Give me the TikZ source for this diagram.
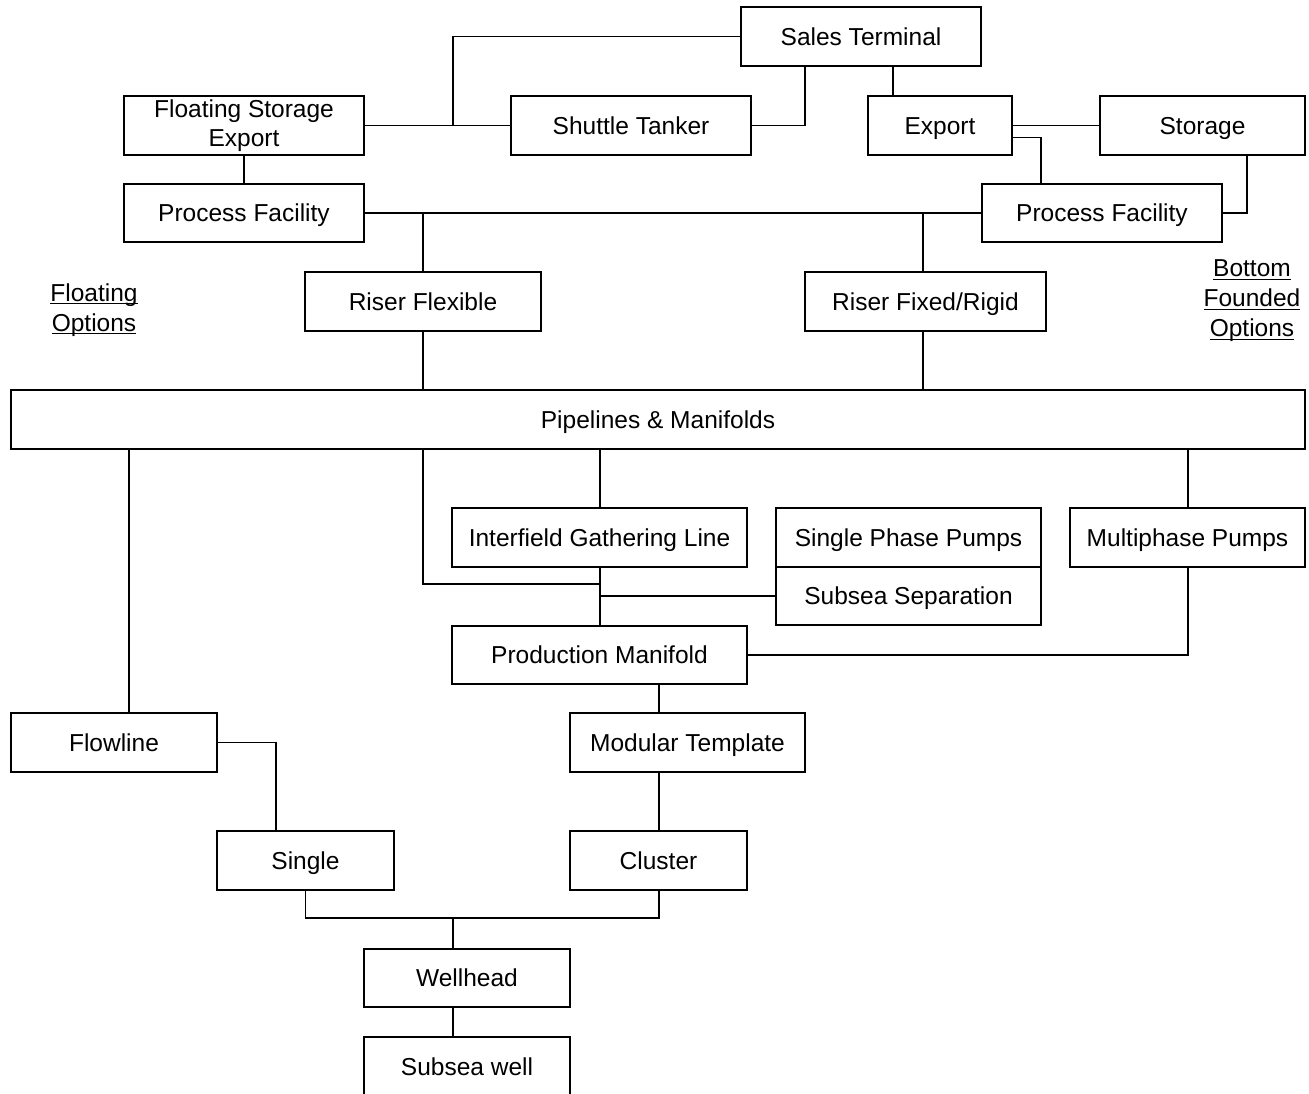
\documentclass[tikz,border=0pt]{standalone}
\usepackage{fontspec}
\setmainfont{Liberation Sans}
\newcommand\myul[1]{\setbox0\hbox{#1}\rlap{\rule[-3pt]{\wd0}{1.3pt}}\box0}
\begin{document}
\begin{tikzpicture}[x=1pt,y=-1pt,
  box/.style={draw=black,line width=1.5pt,rectangle,inner sep=0pt,align=center,
    font=\fontsize{24.5}{29.5}\selectfont,text height=17.5pt,text depth=0pt},
  box2/.style={draw=black,line width=1.5pt,rectangle,inner sep=0pt,align=center,
    font=\fontsize{24.5}{29.5}\selectfont},
  lbl/.style={align=center,inner sep=0pt,font=\fontsize{24.5}{30}\selectfont},
  conn/.style={draw=black,line width=1.5pt}]
\useasboundingbox (0,0) rectangle (1309,1093);
\clip (0,0) rectangle (1309,1093);
\fill[white] (0,0) rectangle (1309,1093);
% boxes
\node[box,minimum width=240,minimum height=59] (st) at (861,36.5) {Sales Terminal};
\node[box2,minimum width=240,minimum height=59] (fse) at (244,125.5) {Floating Storage\\Export};
\node[box,minimum width=240,minimum height=59] (shut) at (631,125.5) {Shuttle Tanker};
\node[box,minimum width=144,minimum height=59] (exp) at (940,125.5) {Export};
\node[box,minimum width=205,minimum height=59] (stor) at (1202.5,125.5) {Storage};
\node[box,minimum width=240,minimum height=58] (pfl) at (244,213) {Process Facility};
\node[box,minimum width=240,minimum height=58] (pfr) at (1102,213) {Process Facility};
\node[box,minimum width=236,minimum height=59] (rflex) at (423,301.5) {Riser Flexible};
\node[box,minimum width=241,minimum height=59] (rfix) at (925.5,301.5) {Riser Fixed/Rigid};
\node[box,minimum width=1294,minimum height=59] (pipe) at (658,419.5) {Pipelines \& Manifolds};
\node[box,minimum width=295,minimum height=59] (igl) at (599.5,537.5) {Interfield Gathering Line};
\node[box,minimum width=265,minimum height=59] (spp) at (908.5,537.5) {Single Phase Pumps};
\node[box,minimum width=265,minimum height=58] (ssep) at (908.5,596) {Subsea Separation};
\node[box,minimum width=235,minimum height=59] (mpp) at (1187.5,537.5) {Multiphase Pumps};
\node[box,minimum width=295,minimum height=58] (pm) at (599.5,655) {Production Manifold};
\node[box,minimum width=206,minimum height=59] (flow) at (114,742.5) {Flowline};
\node[box,minimum width=235,minimum height=59] (mod) at (687.5,742.5) {Modular Template};
\node[box,minimum width=177,minimum height=59] (single) at (305.5,860.5) {Single};
\node[box,minimum width=177,minimum height=59] (cluster) at (658.5,860.5) {Cluster};
\node[box,minimum width=206,minimum height=58] (well) at (467,978) {Wellhead};
\node[box,minimum width=206,minimum height=60] (sw) at (467,1067) {Subsea well};
% labels
\node[lbl] (fo) at (94,310) {\myul{Floating}\\\myul{Options}};
\node[lbl] (bfo) at (1252,301) {\myul{Bottom}\\\myul{Founded}\\\myul{Options}};
% junctions
\coordinate (j1) at (453,125.5);
\coordinate (j2) at (600,584);
\coordinate (j3) at (453,918);
% connectors
\draw[conn] (st.west) -| (j1);
\draw[conn] (fse.east) -- (shut.west);
\draw[conn] (shut.east) -| (805,0 |- st.south);
\draw[conn] (893,0 |- st.south) -- (893,0 |- exp.north);
\draw[conn] (exp.east) -- (stor.west);
\draw[conn] ([yshift=-12pt]exp.east) -| (1041,0 |- pfr.north);
\draw[conn] (1247,0 |- stor.south) |- (pfr.east);
\draw[conn] (fse.south) -- (pfl.north);
\draw[conn] (pfl.east) -- (pfr.west);
\draw[conn] (423,0 |- pfl.east) -- (rflex.north);
\draw[conn] (923,0 |- pfr.west) -- (923,0 |- rfix.north);
\draw[conn] (rflex.south) -- (423,0 |- pipe.north);
\draw[conn] (923,0 |- rfix.south) -- (923,0 |- pipe.north);
\draw[conn] (129,0 |- pipe.south) -- (129,0 |- flow.north);
\draw[conn] (423,0 |- pipe.south) |- (j2);
\draw[conn] (600,0 |- pipe.south) -- (600,0 |- igl.north);
\draw[conn] (1188,0 |- pipe.south) -- (1188,0 |- mpp.north);
\draw[conn] (600,0 |- igl.south) -- (600,0 |- pm.north);
\draw[conn] (ssep.west) -- (600,0 |- ssep.west);
\draw[conn] (1188,0 |- mpp.south) |- (pm.east);
\draw[conn] (659,0 |- pm.south) -- (659,0 |- mod.north);
\draw[conn] (659,0 |- mod.south) -- (659,0 |- cluster.north);
\draw[conn] (flow.east) -| (276,0 |- single.north);
\draw[conn] (single.south) |- (j3) -| (659,0 |- cluster.south);
\draw[conn] (j3) -- (453,0 |- well.north);
\draw[conn] (453,0 |- well.south) -- (453,0 |- sw.north);
\end{tikzpicture}
\end{document}
